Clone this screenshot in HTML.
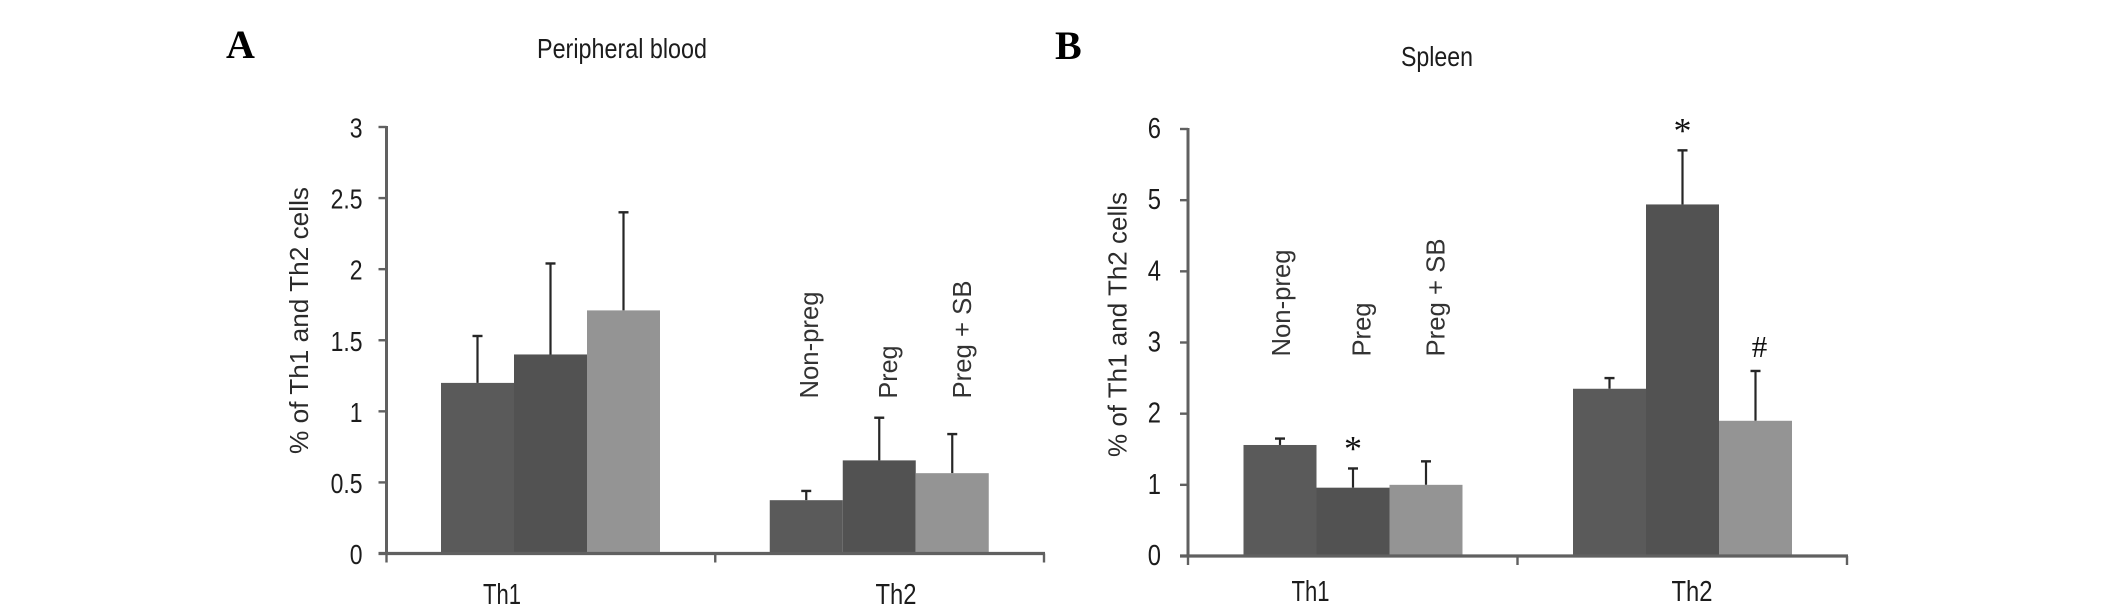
<!DOCTYPE html>
<html><head><meta charset="utf-8"><title>Th1 and Th2 cells</title>
<style>html,body{margin:0;padding:0;background:#fff;width:2126px;height:616px;overflow:hidden}svg{display:block}text{font-family:"Liberation Sans",sans-serif;fill:#1c1c1c}</style>
</head><body>
<svg id="fig" width="2126" height="616" viewBox="0 0 2126 616" xmlns="http://www.w3.org/2000/svg"></svg>
<script>
const categories = ['Th1', 'Th2'];
const seriesNames = ['Non-preg', 'Preg', 'Preg + SB'];
const seriesColors = ['#5a5a5a', '#525252', '#949494'];

const bloodTicks = ['0', '0.5', '1', '1.5', '2', '2.5', '3'];
const bloodMeans = [[1.2, 1.4, 1.71], [0.375, 0.655, 0.565]];
const bloodErrorTops = [[1.53, 2.04, 2.4], [0.44, 0.955, 0.84]];
const bloodMarks = [['', '', ''], ['', '', '']];

const spleenTicks = ['0', '1', '2', '3', '4', '5', '6'];
const spleenMeans = [[1.56, 0.96, 1.0], [2.35, 4.94, 1.9]];
const spleenErrorTops = [[1.65, 1.23, 1.33], [2.5, 5.7, 2.6]];
const spleenMarks = [['', '*', ''], ['', '*', '#']];

const NS = 'http://www.w3.org/2000/svg';
const fig = document.getElementById('fig');

function add(parent, tag, attrs, txt) {
  const el = document.createElementNS(NS, tag);
  for (const k in attrs) el.setAttribute(k, attrs[k]);
  if (txt !== undefined) el.textContent = txt;
  parent.appendChild(el);
  return el;
}

function drawPanel(p, ticks, means, tops, marks) {
  const g = add(fig, 'g', {});
  
  

  const tickVals = ticks.map(Number);
  const maxV = tickVals[tickVals.length - 1];
  const y = v => p.y0 + (p.yTop - p.y0) * v / maxV;
  const groupW = (p.xEnd - p.xAxis) / categories.length;
  const barX = (c, s) => p.xAxis + groupW * c + p.barOffset + p.barW * s;

  // bars and error bars
  means.forEach((row, c) => row.forEach((v, s) => {
    const cx = barX(c, s) + p.barW / 2;
    const er = add(g, 'line', {x1: cx, x2: cx, y1: y(v), y2: y(tops[c][s]), stroke: '#262626', 'stroke-width': 2.2});
    
    
    const cap = add(g, 'line', {x1: cx - 5, x2: cx + 5, y1: y(tops[c][s]), y2: y(tops[c][s]), stroke: '#262626', 'stroke-width': 2.4});
    
    
    const bar = add(g, 'rect', {x: barX(c, s), y: y(v), width: p.barW, height: p.y0 - y(v), fill: seriesColors[s]});
    
    
    if (marks[c][s]) {
      const isStar = marks[c][s] === '*';
      const m = add(g, 'text', {x: cx + (isStar ? 0 : 4), y: y(tops[c][s]) + (isStar ? -8 : -14), 'text-anchor': 'middle', 'font-size': isStar ? 36 : 31, style: 'font-family:"Liberation Serif",serif;fill:#111'}, marks[c][s]);
      
      
    }
  }));

  // axes
  const yAxis = add(g, 'line', {x1: p.xAxis, x2: p.xAxis, y1: p.yTop - 1, y2: p.y0 + 1, stroke: '#606060', 'stroke-width': 3});
  
  
  const xAxis = add(g, 'line', {x1: p.xAxis - 8, x2: p.xEnd + 1, y1: p.y0, y2: p.y0, stroke: '#606060', 'stroke-width': 3.2});
  
  

  ticks.forEach((t, i) => {
    const yy = y(tickVals[i]);
    const tk = add(g, 'line', {x1: p.xAxis - 8, x2: p.xAxis, y1: yy, y2: yy, stroke: '#606060', 'stroke-width': 2.4});
    
    
    const lb = add(g, 'text', {transform: 'translate(' + p.tickRight + ',' + (yy + p.tickDy) + ') scale(0.82,1)', 'text-anchor': 'end', 'font-size': p.tickSize}, t);
    
    
  });

  for (let i = 0; i <= categories.length; i++) {
    const xx = p.xAxis + groupW * i;
    const tk = add(g, 'line', {x1: xx, x2: xx, y1: p.y0, y2: p.y0 + 9, stroke: '#606060', 'stroke-width': 2.4});
    
    
  }

  categories.forEach((c, i) => {
    const lb = add(g, 'text', {x: p.catX[i], y: p.catY, 'font-size': 29, textLength: p.catW[i], lengthAdjust: 'spacingAndGlyphs'}, c);
    
    
  });

  const title = add(g, 'text', {x: p.titleX, y: p.titleY, 'font-size': 28, textLength: p.titleW, lengthAdjust: 'spacingAndGlyphs'}, p.title);
  
  

  const letter = add(g, 'text', {x: p.letterX, y: p.letterY, 'font-size': 40, 'font-weight': 700, style: 'font-family:"Liberation Serif",serif;fill:#000'}, p.letter);
  
  

  const yt = add(g, 'text', {transform: 'translate(' + p.yTitleX + ',' + p.yTitleY + ') rotate(-90)', 'font-size': 26, textLength: p.yTitleW, lengthAdjust: 'spacingAndGlyphs', style: 'fill:#2a2a2a'}, '% of Th1 and Th2 cells');
  
  

  seriesNames.forEach((s, i) => {
    const t = add(g, 'text', {transform: 'translate(' + p.seriesX[i] + ',' + p.seriesY + ') rotate(-90)', 'font-size': 26, textLength: p.seriesW[i], lengthAdjust: 'spacingAndGlyphs', style: 'fill:#333'}, s);
    
    
  });
}

drawPanel({
  id: 'blood', letter: 'A', letterX: 226, letterY: 58, title: 'Peripheral blood', titleX: 537, titleY: 58, titleW: 170,
  xAxis: 386.5, xEnd: 1044, y0: 553.5, yTop: 127, barOffset: 54.5, barW: 73,
  tickRight: 362.5, tickDy: 10.5, tickSize: 28,
  catX: [483, 875.5], catW: [38, 41], catY: 604,
  yTitleX: 308, yTitleY: 454, yTitleW: 267,
  seriesX: [818, 897, 971], seriesY: 398.5, seriesW: [107, 53, 118]
}, bloodTicks, bloodMeans, bloodErrorTops, bloodMarks);

drawPanel({
  id: 'spleen', letter: 'B', letterX: 1055, letterY: 59, title: 'Spleen', titleX: 1401, titleY: 66, titleW: 72,
  xAxis: 1188, xEnd: 1847, y0: 556, yTop: 129, barOffset: 55.5, barW: 73,
  tickRight: 1161, tickDy: 9, tickSize: 29,
  catX: [1291.5, 1671.5], catW: [38, 41], catY: 601,
  yTitleX: 1126.5, yTitleY: 457, yTitleW: 265,
  seriesX: [1290, 1370.5, 1444.5], seriesY: 356.5, seriesW: [107, 54, 118]
}, spleenTicks, spleenMeans, spleenErrorTops, spleenMarks);
</script>
</body></html>
